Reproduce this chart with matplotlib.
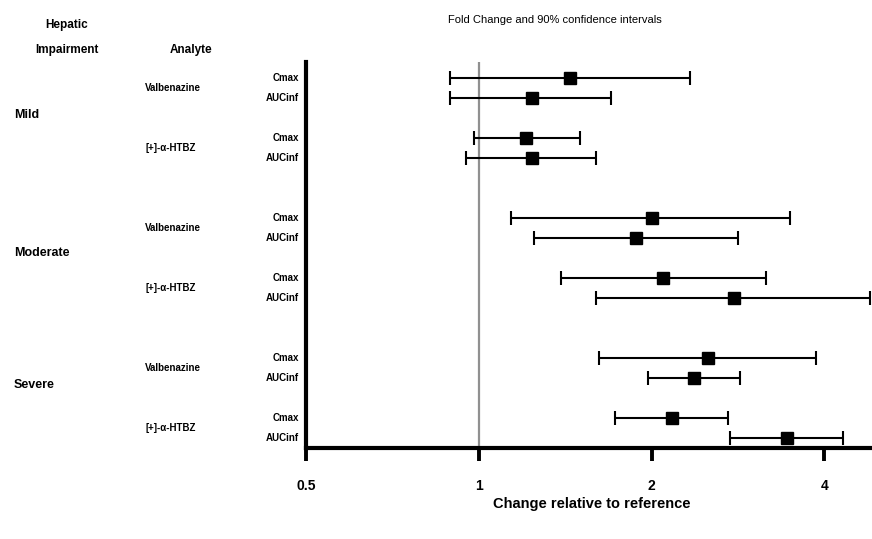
import matplotlib
matplotlib.use("Agg")
import matplotlib.pyplot as plt
import matplotlib.transforms as mtransforms
import numpy as np

plt.rcParams['font.family'] = ['Liberation Sans', 'DejaVu Sans']

severities = ['Mild', 'Moderate', 'Severe']
analytes = ['Valbenazine', '[+]-α-HTBZ']
params = ['Cmax', 'AUCinf']

# fold change, lower and upper 90% CI (order: severity, analyte, param)
fold = [1.44, 1.24, 1.21, 1.24,
        2.00, 1.88, 2.09, 2.78,
        2.51, 2.37, 2.17, 3.44]
lower = [0.89, 0.89, 0.98, 0.95,
         1.14, 1.25, 1.39, 1.60,
         1.62, 1.97, 1.73, 2.74]
upper = [2.33, 1.70, 1.50, 1.60,
         3.49, 2.83, 3.16, 4.80,
         3.87, 2.85, 2.72, 4.31]
xticks = [0.5, 1, 2, 4]
xticklabels = ['0.5', '1', '2', '4']

# row positions: pairs grouped by analyte, analytes grouped by severity
ypos = []
for g in range(len(severities)):
    for a in range(len(analytes)):
        for p in range(len(params)):
            ypos.append(7 * g + 3 * a + p)
ypos = np.array(ypos)
fold = np.array(fold)
err = np.vstack([fold - np.array(lower), np.array(upper) - fold])

fig = plt.figure(figsize=(8.72, 5.39), dpi=100)
ax = fig.add_axes([306 / 872, 1 - 448 / 539, 1 - 306 / 872, (448 - 62) / 539])

ax.axvline(1, color='#909090', lw=1.6, zorder=1)
ax.errorbar(fold, ypos, xerr=err, fmt='s', color='black', ms=8.6,
            elinewidth=1.5, capsize=5, capthick=1.5, zorder=3)

ax.set_xscale('log', base=2)
ax.set_xlim(0.5, 4.84)
ax.set_ylim(18.5, -0.8)
ax.set_xticks(xticks)
ax.set_xticklabels(xticklabels, fontsize=10, fontweight='bold')
ax.minorticks_off()
ax.set_yticks([])
ax.tick_params(axis='x', length=9, width=2.8, pad=13)
ax.spines['top'].set_visible(False)
ax.spines['right'].set_visible(False)
ax.spines['left'].set_linewidth(3)
ax.spines['bottom'].set_linewidth(3)
ax.patch.set_alpha(0)

def fx(px):
    return px / 872

def fy(py):
    return 1 - py / 539

# parameter labels next to each row
tr = ax.get_yaxis_transform()
for i, y in enumerate(ypos):
    ax.text(-0.012, y, params[i % 2], transform=tr, ha='right', va='center',
            fontsize=7, fontweight='bold')

# analyte and severity labels
blend = mtransforms.blended_transform_factory(fig.transFigure, ax.transData)
for g in range(len(severities)):
    for a, an in enumerate(analytes):
        yc = 7 * g + 3 * a + 0.5
        ax.text(fx(145), yc, an, transform=blend, ha='left', va='center',
                fontsize=7, fontweight='bold')
sev_y = [1.85, 8.75, 15.35]
for sev, y in zip(severities, sev_y):
    ax.text(fx(14), y, sev, transform=blend, ha='left', va='center',
            fontsize=9, fontweight='bold')

fig.text(fx(67), fy(25), 'Hepatic', ha='center', va='center', fontsize=8.5, fontweight='bold')
fig.text(fx(67), fy(50), 'Impairment', ha='center', va='center', fontsize=8.5, fontweight='bold')
fig.text(fx(191), fy(50), 'Analyte', ha='center', va='center', fontsize=8.5, fontweight='bold')
fig.text(fx(555), fy(20), 'Fold Change and 90% confidence intervals', ha='center',
         va='center', fontsize=8)
fig.text(fx(592), fy(504), 'Change relative to reference', ha='center', va='center',
         fontsize=10.5, fontweight='bold')

fig.savefig('out.png', dpi=100)
